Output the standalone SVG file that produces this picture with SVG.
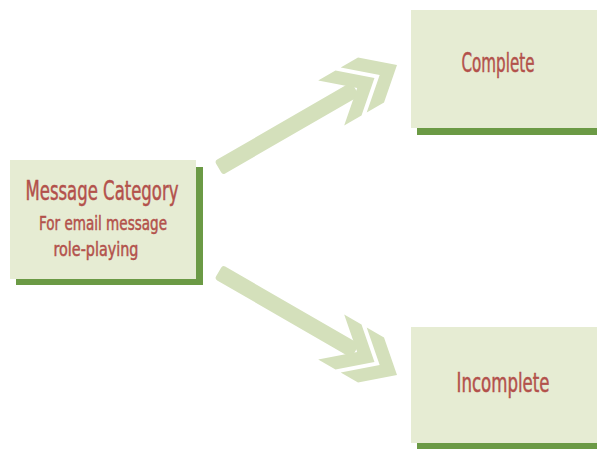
<svg xmlns="http://www.w3.org/2000/svg" width="597" height="449" viewBox="0 0 597 449">
<style>
.box{fill:#e6ecd3}
.shadow{fill:#6b9a45}
.arrow{fill:#d4e0bb}
.lbl{font-family:"Liberation Sans Narrow","DejaVu Sans Condensed","Liberation Sans",sans-serif;fill:#b3514b;text-anchor:middle;stroke:#b3514b;stroke-width:0.5}
</style>
<defs>
<g id="arrowShape">
<rect x="-206" y="-8" width="158" height="16" rx="3"/>
<polygon points="-26,0 -56,-26 -76,-26 -46,0 -76,26 -56,26"/>
<polygon points="0,0 -30,-26 -50,-26 -20,0 -50,26 -30,26"/>
</g>
</defs>
<rect width="597" height="449" fill="#ffffff"/>
<g id="connectors">
<use href="#arrowShape" class="arrow" transform="translate(397,65) rotate(-30)"/>
<use href="#arrowShape" class="arrow" transform="translate(397,375) rotate(30)"/>
</g>
<g id="node-message-category">
<rect class="shadow" x="16" y="167" width="187" height="118"/>
<rect class="box" x="10" y="160" width="186" height="119"/>
<text class="lbl" x="102" y="200" font-size="27" textLength="153" lengthAdjust="spacingAndGlyphs">Message Category</text>
<text class="lbl" x="103" y="230" font-size="20" textLength="128" lengthAdjust="spacingAndGlyphs">For email message</text>
<text class="lbl" x="96" y="256" font-size="20" textLength="85" lengthAdjust="spacingAndGlyphs">role-playing</text>
</g>
<g id="node-complete">
<rect class="shadow" x="417" y="17" width="190" height="118"/>
<rect class="box" x="411" y="10" width="190" height="118"/>
<text class="lbl" x="498" y="72" font-size="27" textLength="73" lengthAdjust="spacingAndGlyphs">Complete</text>
</g>
<g id="node-incomplete">
<rect class="shadow" x="417" y="334" width="190" height="120"/>
<rect class="box" x="411" y="327" width="190" height="116"/>
<text class="lbl" x="503" y="392" font-size="27" textLength="93" lengthAdjust="spacingAndGlyphs">Incomplete</text>
</g>
</svg>
